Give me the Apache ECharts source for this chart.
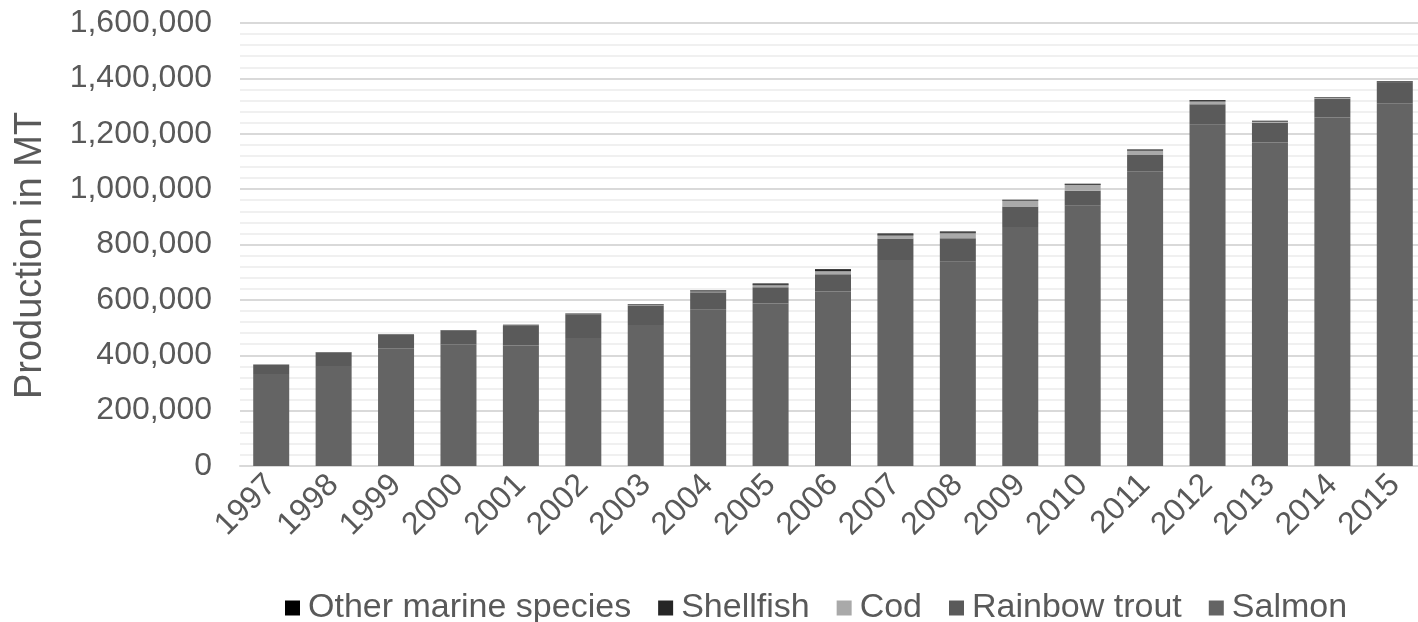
<!DOCTYPE html>
<html>
<head>
<meta charset="utf-8">
<script src="https://cdn.jsdelivr.net/npm/echarts@6/dist/echarts.min.js"></script>
<style>
html,body{margin:0;padding:0;background:#fff;}
#chart{width:1418px;height:622px;}
</style>
</head>
<body>
<div id="chart"></div>
<script>
const years = ['1997','1998','1999','2000','2001','2002','2003','2004','2005','2006','2007','2008','2009','2010','2011','2012','2013','2014','2015'];
const salmon = [332600,360800,425200,440100,435100,462500,509500,563900,586500,629900,744200,737700,862900,939600,1064900,1232100,1168300,1258400,1310000];
const rainbowTrout = [33300,48400,48700,48800,71800,83600,68900,63400,58900,62700,77400,85200,73900,54500,58500,74600,71400,68900,75000];
const cod = [0,200,300,200,900,1300,2200,3200,7400,11100,11100,18100,20900,21200,15300,10000,3800,1400,0];
const shellfish = [600,700,1200,1700,1500,2500,2600,3000,3800,3900,3700,2200,1700,1700,2000,2000,2000,2300,3000];
const otherMarine = [400,400,600,700,800,1000,1200,1500,2300,2700,3200,3500,2500,2000,2200,2000,1500,1000,2000];
const yTicks = [0,200000,400000,600000,800000,1000000,1200000,1400000,1600000];

const FONT = '"Liberation Sans", Arial, sans-serif';
const TXT = '#595959';
const chart = echarts.init(document.getElementById('chart'));
function s(name, data, color){
  return {name, type:'bar', stack:'total', data, barWidth:36,
    itemStyle:{color}, emphasis:{disabled:true}};
}
chart.setOption({
  animation:false,
  textStyle:{fontFamily:FONT},
  grid:{left:240, top:23, height:443, width:1186, outerBoundsMode:'none', containLabel:false},
  legend:{
    data:['Other marine species','Shellfish','Cod','Rainbow trout','Salmon'],
    top:586, left:280, itemWidth:15, itemHeight:15, itemGap:27,
    icon:'rect',
    textStyle:{fontSize:34, color:TXT, fontFamily:FONT, padding:[0,0,0,3]}
  },
  xAxis:{
    type:'category', data:years,
    axisTick:{show:false},
    axisLine:{lineStyle:{color:'#d9d9d9', width:2}},
    axisLabel:{rotate:45, interval:0, fontSize:32, color:TXT, margin:14, fontFamily:FONT}
  },
  yAxis:{
    type:'value', min:yTicks[0], max:yTicks[yTicks.length-1], interval:200000,
    name:'Production in MT', nameLocation:'middle', nameRotate:90, nameGap:190,
    nameTextStyle:{fontSize:38, color:TXT, fontFamily:FONT, padding:[0,22,0,0]},
    axisLabel:{fontSize:32, color:TXT, margin:28, fontFamily:FONT,
      formatter:v=>v.toLocaleString('en-US')},
    axisLine:{show:false}, axisTick:{show:false},
    splitLine:{lineStyle:{color:'#d9d9d9', width:2}},
    minorTick:{show:false, splitNumber:5},
    minorSplitLine:{show:true, lineStyle:{color:'#f0f0f0', width:2}}
  },
  series:[
    s('Salmon', salmon, '#646464'),
    s('Rainbow trout', rainbowTrout, '#5a5a5a'),
    s('Cod', cod, '#a9a9a9'),
    s('Shellfish', shellfish, '#262626'),
    s('Other marine species', otherMarine, '#000000')
  ]
});
</script>
</body>
</html>
